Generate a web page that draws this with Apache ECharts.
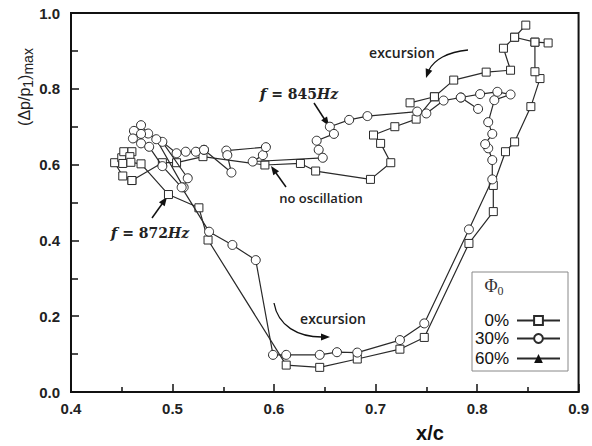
<!DOCTYPE html>
<html>
<head>
<meta charset="utf-8">
<script src="https://cdn.jsdelivr.net/npm/echarts@6/dist/echarts.min.js"></script>
<style>
html,body{margin:0;padding:0;background:#fff;}
#chart{width:592px;height:446px;}
</style>
</head>
<body>
<div id="chart"></div>
<script>
// ---- data (x/c, (Δp/p1)max) ----
const seriesNames = ['0%', '30%', '60%'];
const xTickLabels = ['0.4', '0.5', '0.6', '0.7', '0.8', '0.9'];
const yTickLabels = ['0.0', '0.2', '0.4', '0.6', '0.8', '1.0'];

const phi0 = [
  [0.460,0.558],[0.451,0.570],[0.443,0.605],[0.450,0.618],[0.452,0.634],[0.460,0.634],
  [0.458,0.621],[0.451,0.603],[0.459,0.606],[0.469,0.602],[0.496,0.521],[0.526,0.486],
  [0.535,0.401],[0.612,0.071],[0.645,0.065],[0.682,0.087],[0.724,0.113],[0.748,0.144],
  [0.792,0.392],[0.816,0.476],[0.816,0.545],[0.828,0.634],[0.837,0.660],[0.853,0.753],
  [0.862,0.827],[0.857,0.845],[0.857,0.923],[0.870,0.921],[0.857,0.923],[0.837,0.936],
  [0.848,0.968],[0.837,0.936],[0.826,0.907],[0.833,0.849],[0.809,0.844],[0.777,0.823],
  [0.758,0.779],[0.734,0.763],[0.758,0.779],[0.740,0.720],[0.719,0.700],[0.698,0.678],
  [0.705,0.656],[0.715,0.605],[0.695,0.561],[0.641,0.583],[0.626,0.603],[0.591,0.599],
  [0.530,0.621],[0.504,0.605],[0.490,0.605],[0.460,0.558]
];

const phi30 = [
  [0.531,0.639],[0.523,0.634],[0.513,0.634],[0.504,0.630],[0.490,0.660],[0.515,0.564],
  [0.511,0.540],[0.484,0.667],[0.476,0.682],[0.469,0.704],[0.462,0.689],[0.469,0.681],
  [0.461,0.669],[0.469,0.656],[0.477,0.647],[0.490,0.596],[0.509,0.540],[0.536,0.423],
  [0.559,0.388],[0.582,0.348],[0.599,0.098],[0.612,0.098],[0.645,0.098],[0.662,0.105],
  [0.682,0.104],[0.724,0.137],[0.748,0.181],[0.792,0.429],[0.815,0.561],[0.815,0.612],
  [0.811,0.643],[0.808,0.654],[0.815,0.681],[0.811,0.712],[0.817,0.770],[0.833,0.785],
  [0.820,0.792],[0.803,0.786],[0.784,0.777],[0.801,0.747],[0.784,0.777],[0.767,0.769],
  [0.750,0.735],[0.741,0.740],[0.692,0.728],[0.674,0.718],[0.655,0.700],[0.659,0.681],
  [0.642,0.663],[0.644,0.639],[0.648,0.618],[0.579,0.608],[0.589,0.625],[0.592,0.646],
  [0.553,0.637],[0.554,0.625],[0.558,0.579],[0.531,0.639]
];

const phi60 = [];

// ---- chart ----
const chart = echarts.init(document.getElementById('chart'), null, {renderer: 'svg'});
const LINE = '#2a2a2a';
const FONT = '"Liberation Sans", Arial, sans-serif';
const SERIF = '"DejaVu Serif", serif';

function arrowHead(tx, ty, dx, dy, len, w) {
  const l = Math.hypot(dx, dy); dx /= l; dy /= l;
  const bx = tx - dx * len, by = ty - dy * len;
  return {
    type: 'polygon', silent: true,
    shape: {points: [[tx, ty], [bx - dy * w, by + dx * w], [bx + dy * w, by - dx * w]]},
    style: {fill: '#111'}
  };
}

function legendFor(name, top) {
  return {
    data: [name], right: 31, top: top, orient: 'vertical', align: 'right',
    itemWidth: 43, itemHeight: 11, padding: 0, itemGap: 0,
    textStyle: {fontSize: 17, fontFamily: FONT, color: '#111', padding: [0, 3, 0, 0]}
  };
}

const freqRich = {
  f: {fontSize: 15, fontStyle: 'italic', fontWeight: 'bold', fontFamily: SERIF, fill: '#222'},
  t: {fontSize: 14, fontWeight: 'bold', fontFamily: SERIF, fill: '#222'},
  h: {fontSize: 14, fontStyle: 'italic', fontWeight: 'bold', fontFamily: SERIF, fill: '#222'}
};

const option = {
  animation: false,
  backgroundColor: '#fff',
  grid: {left: 71, right: 11, top: 13, bottom: 54, show: true, borderColor: '#111', borderWidth: 2, containLabel: false},
  xAxis: {
    type: 'value', min: 0.4, max: 0.9, interval: 0.1,
    axisLine: {show: true, lineStyle: {color: '#111', width: 2}},
    axisTick: {show: true, inside: true, length: 8, lineStyle: {color: '#111', width: 1.5}},
    minorTick: {show: true, splitNumber: 2, length: 5, lineStyle: {color: '#111', width: 1.5}},
    splitLine: {show: false},
    axisLabel: {
      margin: 9, fontSize: 15, fontWeight: 'bold', fontFamily: FONT, color: '#222',
      formatter: v => xTickLabels[Math.round((v - 0.4) / 0.1)]
    }
  },
  yAxis: {
    type: 'value', min: 0, max: 1, interval: 0.2,
    axisLine: {show: true, lineStyle: {color: '#111', width: 2}},
    axisTick: {show: true, inside: true, length: 8, lineStyle: {color: '#111', width: 1.5}},
    minorTick: {show: true, splitNumber: 2, length: 7, lineStyle: {color: '#111', width: 1.5}},
    splitLine: {show: false},
    axisLabel: {
      margin: 11, fontSize: 15, fontWeight: 'bold', fontFamily: FONT, color: '#222',
      formatter: v => yTickLabels[Math.round(v / 0.2)]
    }
  },
  legend: [legendFor(seriesNames[0], 312), legendFor(seriesNames[1], 330), legendFor(seriesNames[2], 350)],
  series: [
    {
      name: seriesNames[0], type: 'line', data: phi0, symbol: 'rect', symbolSize: 8, showAllSymbol: true,
      lineStyle: {color: LINE, width: 1.2}, itemStyle: {color: '#fff', borderColor: LINE, borderWidth: 1}, z: 3
    },
    {
      name: seriesNames[1], type: 'line', data: phi30, symbol: 'circle', symbolSize: 9, showAllSymbol: true,
      lineStyle: {color: LINE, width: 1.2}, itemStyle: {color: '#fff', borderColor: LINE, borderWidth: 1}, z: 4
    },
    {
      name: seriesNames[2], type: 'line', data: phi60, symbol: 'triangle', symbolSize: 9,
      lineStyle: {color: LINE, width: 1.2}, itemStyle: {color: '#111', borderColor: '#111'}, z: 5
    }
  ],
  graphic: [
    {
      type: 'text', x: 24, y: 87, rotation: Math.PI / 2, silent: true,
      style: {
        text: '{a|(Δp/p}{s|1}{a|)}{s|max}', align: 'center', verticalAlign: 'middle',
        rich: {
          a: {fontSize: 16, fontFamily: FONT, fill: '#222', lineHeight: 22},
          s: {fontSize: 14, fontFamily: FONT, fill: '#222', lineHeight: 22, padding: [8, 0, 0, 0]}
        }
      }
    },
    {
      type: 'text', x: 430, y: 433, silent: true,
      style: {text: 'x/c', fontSize: 20, fontWeight: 'bold', fontFamily: FONT, fill: '#111', align: 'center', verticalAlign: 'middle'}
    },
    {
      type: 'rect', silent: true, shape: {x: 472, y: 272, width: 96, height: 99},
      style: {fill: 'none', stroke: '#888', lineWidth: 1}
    },
    {
      type: 'text', x: 494, y: 286, silent: true,
      style: {
        text: '{p|Φ}{s|0}', align: 'center', verticalAlign: 'middle',
        rich: {
          p: {fontSize: 18, fontFamily: '"Liberation Serif", serif', fill: '#333', lineHeight: 22},
          s: {fontSize: 12, fontFamily: '"Liberation Serif", serif', fill: '#333', lineHeight: 22, padding: [10, 0, 0, 0]}
        }
      }
    },
    {
      type: 'text', x: 402, y: 52, silent: true,
      style: {text: 'excursion', fontSize: 14, fontWeight: 600, fontFamily: '"Open Sans", sans-serif', fill: '#222', align: 'center', verticalAlign: 'middle'}
    },
    {
      type: 'bezierCurve', silent: true,
      shape: {x1: 468, y1: 50, cpx1: 447, cpy1: 52, cpx2: 434, cpy2: 60, x2: 429, y2: 70},
      style: {stroke: '#111', lineWidth: 1.3, fill: 'none'}
    },
    arrowHead(426, 78, -0.35, 1, 9, 3.5),
    {
      type: 'text', x: 333, y: 318, silent: true,
      style: {text: 'excursion', fontSize: 14, fontWeight: 600, fontFamily: '"Open Sans", sans-serif', fill: '#222', align: 'center', verticalAlign: 'middle'}
    },
    {
      type: 'bezierCurve', silent: true,
      shape: {x1: 274, y1: 303, cpx1: 278, cpy1: 326, cpx2: 298, cpy2: 337, x2: 322, y2: 337},
      style: {stroke: '#111', lineWidth: 1.3, fill: 'none'}
    },
    arrowHead(330, 337, 1, 0, 9, 3.5),
    {
      type: 'text', x: 299, y: 94, silent: true,
      style: {text: '{f|f}{t| = 845}{h|Hz}', align: 'center', verticalAlign: 'middle', rich: freqRich}
    },
    {type: 'line', silent: true, shape: {x1: 314, y1: 103, x2: 325, y2: 120}, style: {stroke: '#111', lineWidth: 1.5}},
    arrowHead(329, 126, 0.55, 0.85, 9, 3.5),
    {
      type: 'text', x: 321, y: 198, silent: true,
      style: {text: 'no oscillation', fontSize: 13, fontWeight: 600, fontFamily: '"Open Sans", sans-serif', fill: '#222', align: 'center', verticalAlign: 'middle'}
    },
    {type: 'line', silent: true, shape: {x1: 286, y1: 187, x2: 276, y2: 173}, style: {stroke: '#111', lineWidth: 1.5}},
    arrowHead(271, 166, -0.58, -0.82, 9, 3.5),
    {
      type: 'text', x: 150, y: 233, silent: true,
      style: {text: '{f|f}{t| = 872}{h|Hz}', align: 'center', verticalAlign: 'middle', rich: freqRich}
    },
    {type: 'line', silent: true, shape: {x1: 152, y1: 218, x2: 162, y2: 204}, style: {stroke: '#111', lineWidth: 1.5}},
    arrowHead(167, 197, 0.58, -0.82, 9, 3.5)
  ]
};
chart.setOption(option);
</script>
</body>
</html>
